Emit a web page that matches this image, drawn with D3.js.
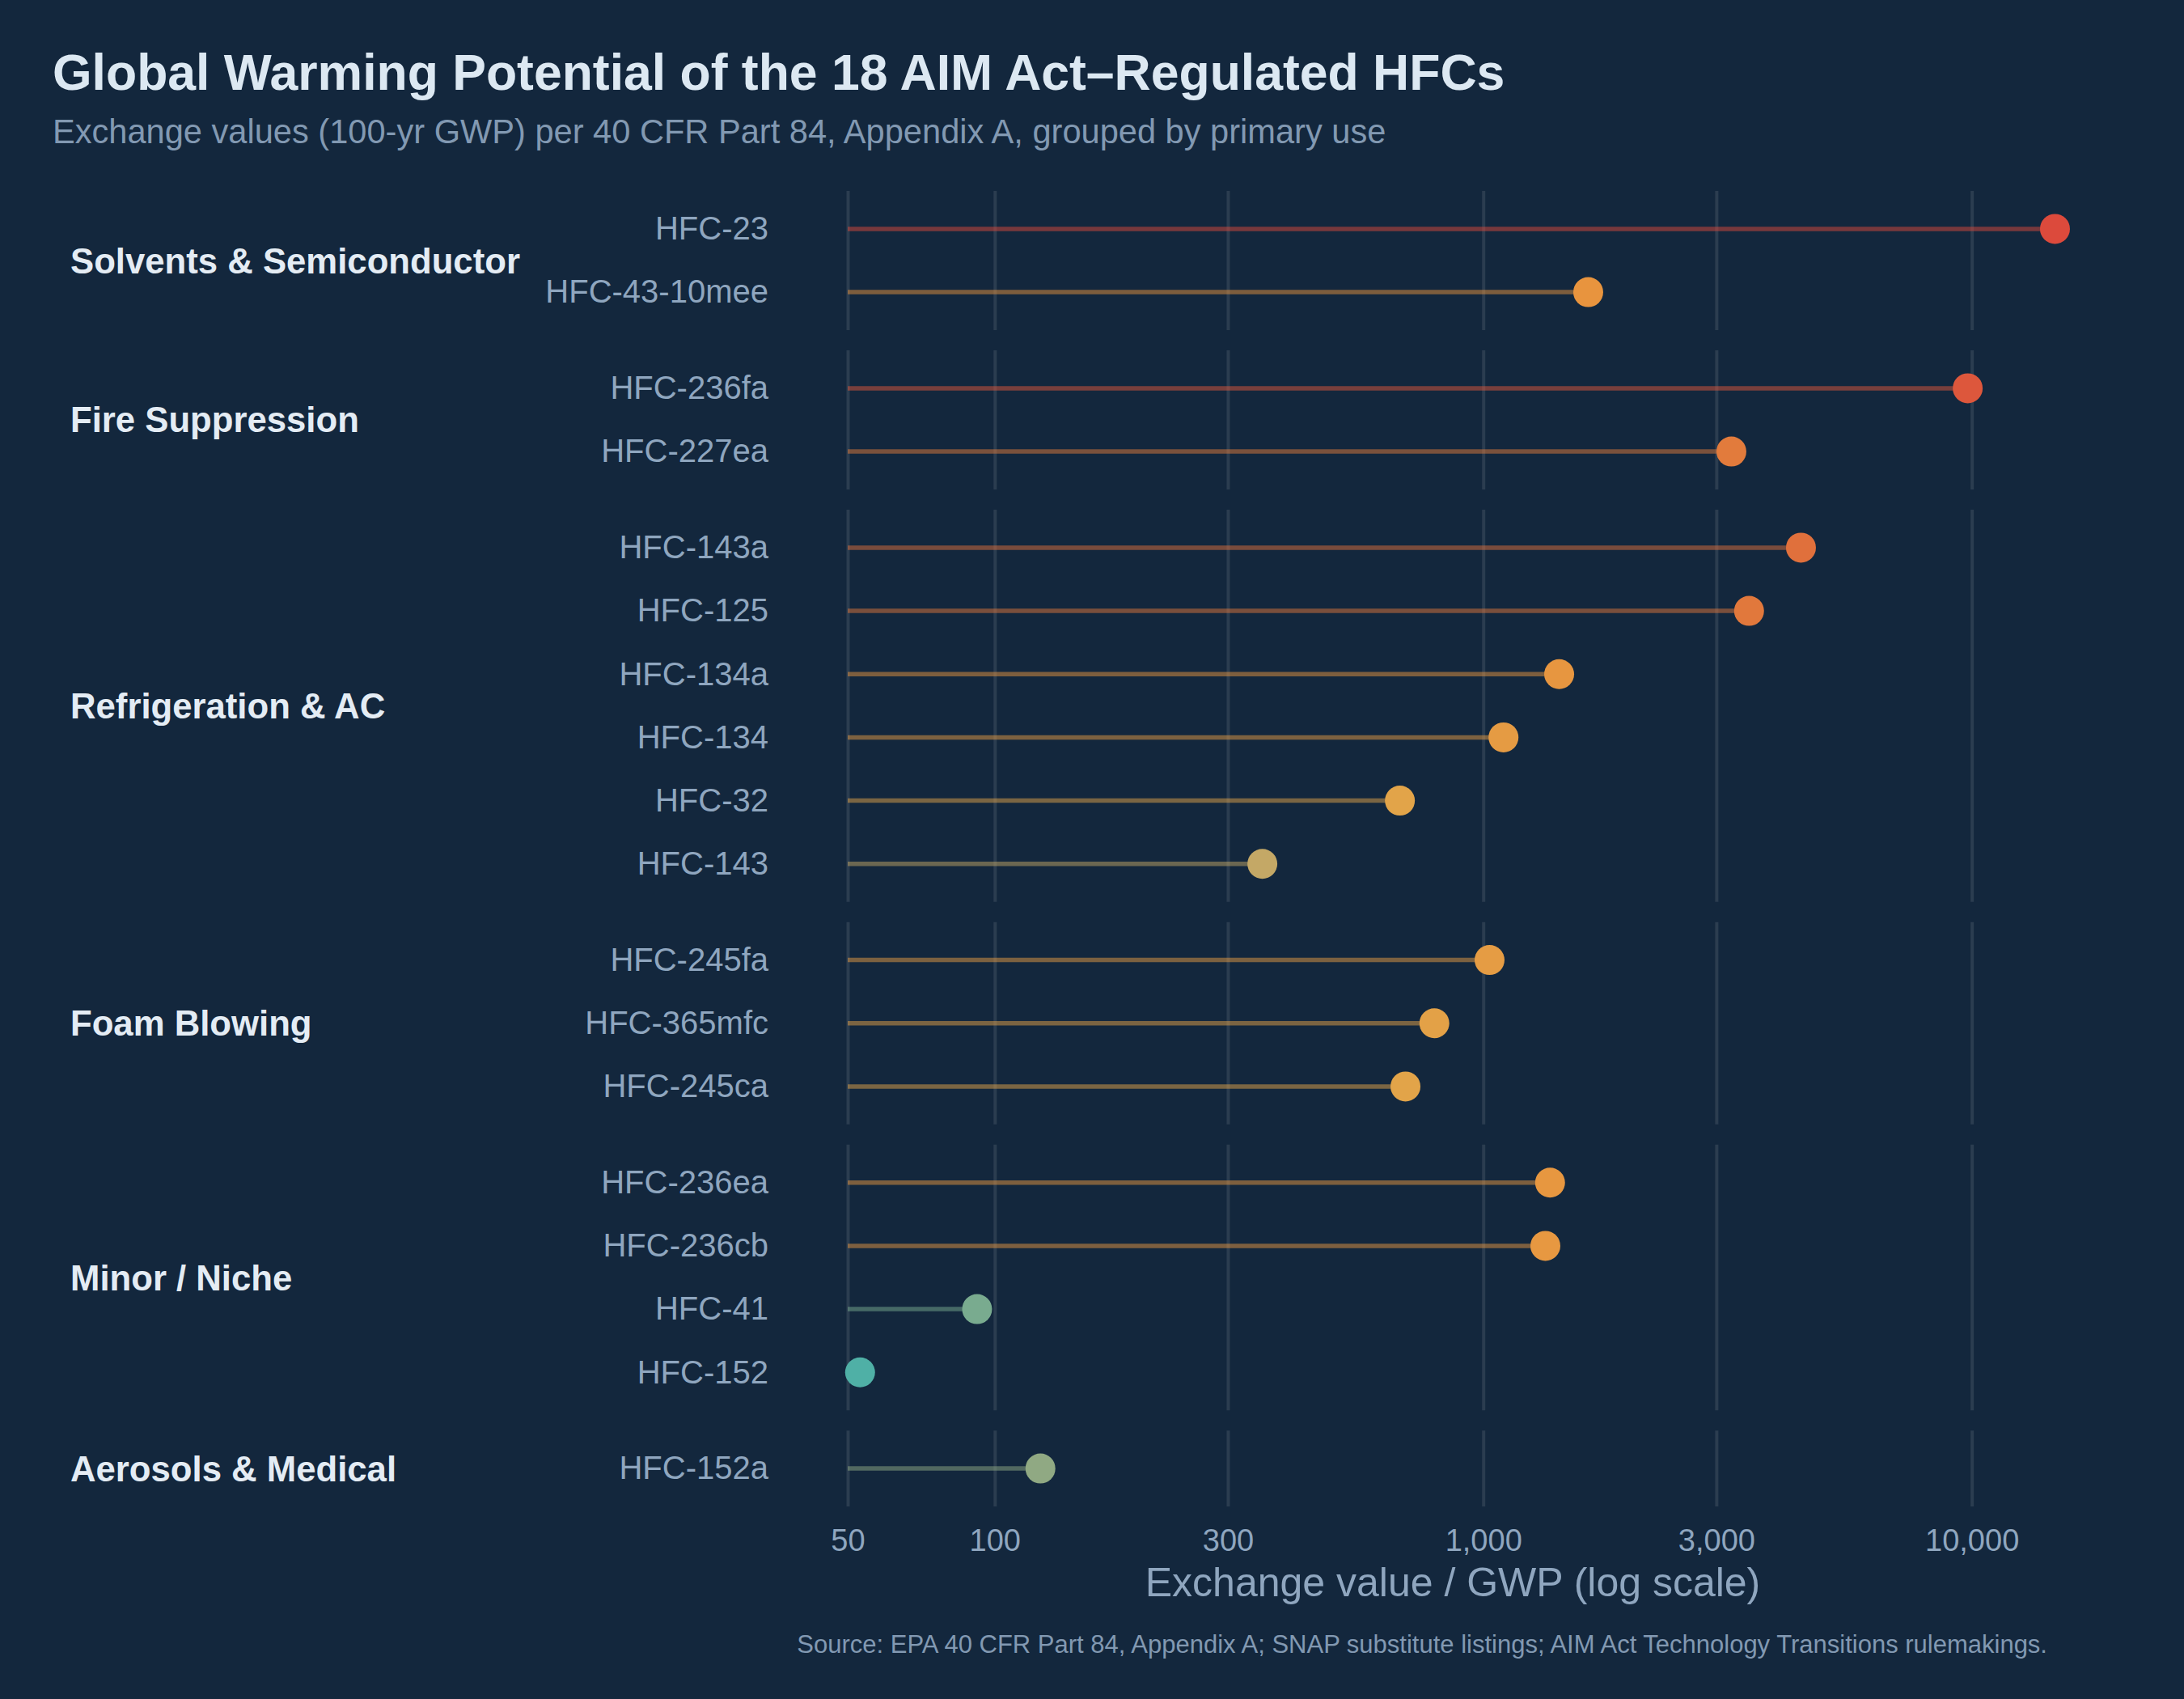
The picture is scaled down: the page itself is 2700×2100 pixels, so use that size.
<!DOCTYPE html>
<html>
<head>
<meta charset="utf-8">
<script src="https://cdn.jsdelivr.net/npm/d3@7"></script>
<style>
  html, body { margin: 0; padding: 0; background: #13273d; }
  svg { display: block; }
  text { font-family: "Liberation Sans", Arial, Helvetica, sans-serif; }
</style>
</head>
<body>
<svg class="chart"></svg>
<script>
const groups = [
  "Solvents & Semiconductor",
  "Fire Suppression",
  "Refrigeration & AC",
  "Foam Blowing",
  "Minor / Niche",
  "Aerosols & Medical",
];

const gases = [
  "HFC-23", "HFC-43-10mee",
  "HFC-236fa", "HFC-227ea",
  "HFC-143a", "HFC-125", "HFC-134a", "HFC-134", "HFC-32", "HFC-143",
  "HFC-245fa", "HFC-365mfc", "HFC-245ca",
  "HFC-236ea", "HFC-236cb", "HFC-41", "HFC-152",
  "HFC-152a",
];

const gasGroup = [
  "Solvents & Semiconductor", "Solvents & Semiconductor",
  "Fire Suppression", "Fire Suppression",
  "Refrigeration & AC", "Refrigeration & AC", "Refrigeration & AC",
  "Refrigeration & AC", "Refrigeration & AC", "Refrigeration & AC",
  "Foam Blowing", "Foam Blowing", "Foam Blowing",
  "Minor / Niche", "Minor / Niche", "Minor / Niche", "Minor / Niche",
  "Aerosols & Medical",
];

const gwp = [
  14800, 1640,
  9810, 3220,
  4470, 3500, 1430, 1100, 675, 353,
  1030, 794, 693,
  1370, 1340, 92, 53,
  124,
];

const xTicks = [50, 100, 300, 1000, 3000, 10000];

// colour ramp stops (value -> colour)
const colorStops = [53, 124, 353, 675, 1640, 3500, 14800];
const colorRange = ["#4fb0a6", "#90a983", "#c4a866", "#e2a449", "#e8943e", "#e1783c", "#dc4a3c"];

const W = 2700, H = 2100;
const bg = "#13273d";
const plotTop = 236, plotBottom = 1862;
const panelGap = 25;
const pad = 0.6; // discrete expansion, in rows

const data = gases.map((g, i) => ({ gas: g, group: gasGroup[i], value: gwp[i] }));

const svg = d3.select(".chart").attr("width", W).attr("height", H);
svg.append("rect").attr("width", W).attr("height", H).attr("fill", bg);

const x = d3.scaleLog().domain([50, 15000]).range([1048, 2544]);
const color = d3.scaleLog().domain(colorStops).range(colorRange).interpolate(d3.interpolateRgb);

// panel sizing: every row gets the same height across panels
const counts = groups.map(g => data.filter(d => d.group === g).length);
const units = d3.sum(counts, n => n - 1 + 2 * pad);
const step = (plotBottom - plotTop - panelGap * (groups.length - 1)) / units;

let panelY = plotTop;
const panels = groups.map((g, i) => {
  const h = (counts[i] - 1 + 2 * pad) * step;
  const p = { group: g, y0: panelY, height: h, rows: data.filter(d => d.group === g) };
  panelY += h + panelGap;
  return p;
});

panels.forEach(p => {
  const y = d3.scalePoint()
    .domain(p.rows.map(d => d.gas))
    .range([p.y0, p.y0 + p.height])
    .padding(pad);

  const g = svg.append("g");

  // vertical grid
  g.append("g")
    .attr("transform", `translate(0,${p.y0 + p.height})`)
    .call(d3.axisBottom(x).tickValues(xTicks).tickSize(-p.height).tickFormat(""))
    .call(a => a.select(".domain").remove())
    .call(a => a.selectAll("line").attr("stroke", "#2b3d50").attr("stroke-width", 4));

  // y labels
  g.append("g")
    .attr("transform", "translate(1048,0)")
    .call(d3.axisLeft(y).tickSize(0).tickPadding(98))
    .call(a => a.select(".domain").remove())
    .call(a => a.selectAll("text")
      .attr("fill", "#8fa6bf")
      .style("font-size", "40px")
      .style("font-family", "'Liberation Sans', Arial, sans-serif"));

  // stems
  g.selectAll("line.stem").data(p.rows).join("line")
    .attr("class", "stem")
    .attr("x1", x(50))
    .attr("x2", d => x(d.value))
    .attr("y1", d => y(d.gas))
    .attr("y2", d => y(d.gas))
    .attr("stroke", d => color(d.value))
    .attr("stroke-opacity", 0.5)
    .attr("stroke-width", 5.5);

  // dots
  g.selectAll("circle").data(p.rows).join("circle")
    .attr("cx", d => x(d.value))
    .attr("cy", d => y(d.gas))
    .attr("r", 18.5)
    .attr("fill", d => color(d.value));

  // group label
  g.append("text")
    .attr("x", 87)
    .attr("y", p.y0 + p.height / 2)
    .attr("dy", "0.355em")
    .attr("fill", "#e4ecf4")
    .style("font-size", "43.7px")
    .style("font-weight", "bold")
    .text(p.group);
});

// x axis labels
svg.append("g")
  .attr("transform", `translate(0,${plotBottom})`)
  .call(d3.axisBottom(x).tickValues(xTicks).tickSize(0).tickPadding(28).tickFormat(d3.format(",")))
  .call(a => a.select(".domain").remove())
  .call(a => a.selectAll("text")
    .attr("fill", "#8fa6bf")
    .style("font-size", "38px")
    .style("font-family", "'Liberation Sans', Arial, sans-serif"));

svg.append("text")
  .attr("x", (x.range()[0] + x.range()[1]) / 2)
  .attr("y", 1973)
  .attr("text-anchor", "middle")
  .attr("fill", "#8fa6bf")
  .style("font-size", "50px")
  .text("Exchange value / GWP (log scale)");

// titles
svg.append("text")
  .attr("x", 65)
  .attr("y", 111)
  .attr("fill", "#dce8f2")
  .style("font-size", "62.5px")
  .style("font-weight", "bold")
  .text("Global Warming Potential of the 18 AIM Act\u2013Regulated HFCs");

svg.append("text")
  .attr("x", 65)
  .attr("y", 177)
  .attr("fill", "#8299b2")
  .style("font-size", "41.6px")
  .text("Exchange values (100-yr GWP) per 40 CFR Part 84, Appendix A, grouped by primary use");

svg.append("text")
  .attr("x", 2531)
  .attr("y", 2043)
  .attr("text-anchor", "end")
  .attr("fill", "#8299b2")
  .style("font-size", "31px")
  .text("Source: EPA 40 CFR Part 84, Appendix A; SNAP substitute listings; AIM Act Technology Transitions rulemakings.");
</script>
</body>
</html>
